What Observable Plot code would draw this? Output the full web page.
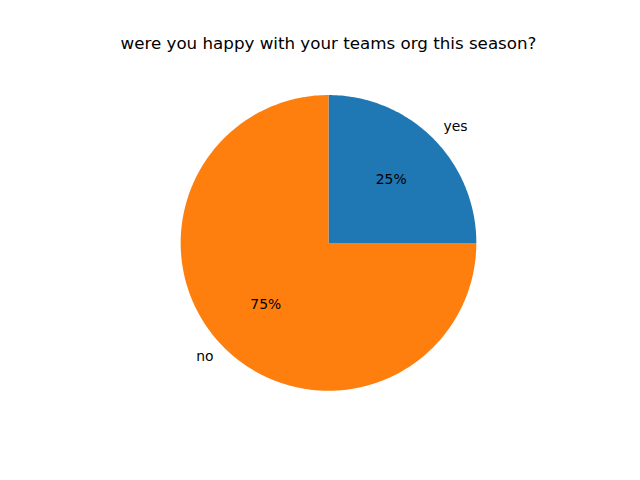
<!DOCTYPE html>
<html>
<head>
<meta charset="utf-8">
<script src="https://cdn.jsdelivr.net/npm/d3@7"></script>
<script src="https://cdn.jsdelivr.net/npm/@observablehq/plot@0.6"></script>
<style>
body { margin: 0; background: #fff; }
</style>
</head>
<body>
<div id="chart"></div>
<script>
const title = "were you happy with your teams org this season?";
const labels = ["yes", "no"];
const values = [1, 3];
const colors = ["#1f77b4", "#ff7f0e"];

const total = d3.sum(values);
// matplotlib-style: start at 0°, counterclockwise
let acc = 0;
const slices = labels.map((label, i) => {
  const a0 = acc / total * 360;
  acc += values[i];
  const a1 = acc / total * 360;
  return {label, value: values[i], a0, a1, frac: values[i] / total};
});

const rad = d => d * Math.PI / 180;
const wedgePts = [];
for (const s of slices) {
  wedgePts.push({label: s.label, x: 0, y: 0});
  const n = Math.max(2, Math.ceil(s.a1 - s.a0));
  for (let k = 0; k <= n; k++) {
    const a = rad(s.a0 + (s.a1 - s.a0) * k / n);
    wedgePts.push({label: s.label, x: Math.cos(a), y: Math.sin(a)});
  }
  wedgePts.push({label: s.label, x: 0, y: 0});
}

const outer = slices.map(s => {
  const m = rad((s.a0 + s.a1) / 2);
  return {label: s.label, x: 1.1 * Math.cos(m), y: 1.1 * Math.sin(m), anchor: Math.cos(m) >= 0 ? "start" : "end"};
});
const inner = slices.map(s => {
  const m = rad((s.a0 + s.a1) / 2);
  return {text: Math.round(s.frac * 100) + "%", x: 0.6 * Math.cos(m), y: 0.6 * Math.sin(m)};
});

const xr = 496 / 2 / 147.84;
const chart = Plot.plot({
  width: 640,
  height: 480,
  marginLeft: 80,
  marginRight: 64,
  marginTop: 57.6,
  marginBottom: 52.8,
  x: {domain: [-xr, xr], axis: null},
  y: {domain: [-1.25, 1.25], axis: null},
  color: {domain: labels, range: colors},
  style: {fontFamily: "DejaVu Sans, sans-serif", background: "#fff"},
  marks: [
    Plot.line(wedgePts, {x: "x", y: "y", z: "label", fill: "label", stroke: null, curve: "linear"}),
    Plot.text(outer.filter(d => d.anchor === "start"), {x: "x", y: "y", text: "label", textAnchor: "start", fontSize: 13.9, fill: "#000", dy: -1}),
    Plot.text(outer.filter(d => d.anchor === "end"), {x: "x", y: "y", text: "label", textAnchor: "end", fontSize: 13.9, fill: "#000", dy: -1}),
    Plot.text(inner, {x: "x", y: "y", text: "text", fontSize: 13.9, fill: "#000", dy: -1}),
    Plot.text([title], {frameAnchor: "top", text: d => d, dy: -21, fontSize: 16.7, fill: "#000"})
  ]
});
document.getElementById("chart").appendChild(chart);
</script>
</body>
</html>
